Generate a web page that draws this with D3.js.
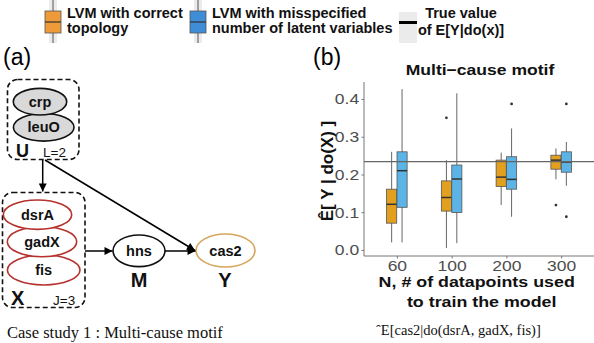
<!DOCTYPE html>
<html><head><meta charset="utf-8">
<script src="https://cdn.jsdelivr.net/npm/d3@7"></script>
<style>
html,body{margin:0;padding:0;background:#fff;}
svg{display:block;}
</style></head>
<body>
<svg id="c" width="594" height="343"></svg>
<script>
// ---- data ----
const groups = ["60", "100", "200", "300"];
const seriesNames = ["LVM with correct topology", "LVM with misspecified number of latent variables"];
// [lower whisker, q1, median, q3, upper whisker]
const correctStats = [
  [0.020, 0.071, 0.121, 0.161, 0.260],
  [0.005, 0.103, 0.139, 0.183, 0.238],
  [0.119, 0.168, 0.193, 0.238, 0.258],
  [0.187, 0.214, 0.238, 0.251, 0.269]
];
const misspecStats = [
  [0.020, 0.113, 0.210, 0.260, 0.426],
  [0.018, 0.099, 0.188, 0.225, 0.415],
  [0.088, 0.161, 0.187, 0.247, 0.322],
  [0.170, 0.206, 0.233, 0.260, 0.286]
];
const correctOutliers = [[], [0.350], [], [0.119]];
const misspecOutliers = [[], [], [0.387], [0.387, 0.088]];
const trueValue = 0.234;
const yTicks = [0, 0.1, 0.2, 0.3, 0.4];
const yDomain = [-0.016, 0.445];

const svg = d3.select("#c");
const font = '"Liberation Sans",Arial,Helvetica,sans-serif';
const serif = '"Liberation Serif","Times New Roman",serif';

// ---- legend ----
const legOrange = "#EE9A38", legBlue = "#3E8DD6";
function boxKey(cx, fill) {
  const g = svg.append("g");
  g.append("rect").attr("x", cx - 4).attr("y", 0).attr("width", 8).attr("height", 43).attr("fill", "#EBEBEB");
  g.append("line").attr("x1", cx).attr("x2", cx).attr("y1", 0).attr("y2", 43).attr("stroke", "#555").attr("stroke-width", 1);
  g.append("rect").attr("x", cx - 8).attr("y", 11).attr("width", 16).attr("height", 22).attr("fill", fill).attr("stroke", "#555").attr("stroke-width", 0.8);
  g.append("line").attr("x1", cx - 8).attr("x2", cx + 8).attr("y1", 22).attr("y2", 22).attr("stroke", "#333").attr("stroke-width", 1.2);
}
boxKey(53, legOrange);
boxKey(198, legBlue);
function legText(x, lines, ys, anchor) {
  lines.forEach((t, i) => svg.append("text").attr("x", x).attr("y", ys[i]).attr("font-family", font)
    .attr("font-weight", "bold").attr("font-size", 14.5).attr("text-anchor", anchor || "start").attr("fill", "#111").text(t));
}
legText(67, ["LVM with correct", "topology"], [17.5, 32.5]);
legText(212, ["LVM with misspecified", "number of latent variables"], [17.5, 32.5]);
svg.append("rect").attr("x", 399).attr("y", 12).attr("width", 18).attr("height", 31).attr("fill", "#EBEBEB");
svg.append("line").attr("x1", 399).attr("x2", 417).attr("y1", 22.5).attr("y2", 22.5).attr("stroke", "#000").attr("stroke-width", 3);
legText(461, ["True value", "of E[Y|do(x)]"], [18.3, 35], "middle");

// ---- panel labels ----
svg.append("text").attr("x", 3).attr("y", 65).attr("font-family", font).attr("font-size", 23).text("(a)");
svg.append("text").attr("x", 313).attr("y", 65).attr("font-family", font).attr("font-size", 23).text("(b)");

// ---- diagram (a) ----
const dg = svg.append("g");
dg.append("defs").append("marker").attr("id", "ah").attr("viewBox", "0 0 10 10").attr("refX", 10).attr("refY", 5)
  .attr("markerWidth", 9).attr("markerHeight", 8).attr("markerUnits", "userSpaceOnUse").attr("orient", "auto")
  .append("path").attr("d", "M0,0L10,5L0,10Z").attr("fill", "#000");
function dashBox(x, y, w, h) {
  dg.append("rect").attr("x", x).attr("y", y).attr("width", w).attr("height", h).attr("rx", 10).attr("ry", 10)
    .attr("fill", "none").attr("stroke", "#111").attr("stroke-width", 1.6).attr("stroke-dasharray", "5,3");
}
function node(cx, cy, rx, ry, stroke, fill, label) {
  dg.append("ellipse").attr("cx", cx).attr("cy", cy).attr("rx", rx).attr("ry", ry)
    .attr("fill", fill).attr("stroke", stroke).attr("stroke-width", 1.6);
  dg.append("text").attr("x", cx).attr("y", cy + 5).attr("text-anchor", "middle").attr("font-family", font)
    .attr("font-weight", "bold").attr("font-size", 14.5).attr("fill", "#111").text(label);
}
function arrow(x1, y1, x2, y2) {
  dg.append("line").attr("x1", x1).attr("y1", y1).attr("x2", x2).attr("y2", y2)
    .attr("stroke", "#000").attr("stroke-width", 1.5).attr("marker-end", "url(#ah)");
}
function dtext(x, y, t, size, bold, anchor) {
  dg.append("text").attr("x", x).attr("y", y).attr("font-family", font).attr("font-size", size)
    .attr("font-weight", bold ? "bold" : "normal").attr("text-anchor", anchor || "start").attr("fill", "#111").text(t);
}
dashBox(7.5, 79.5, 71.5, 80);
node(43.7, 127.3, 30.3, 13.8, "#111", "#D9D9D9", "leuO");
node(40, 101.7, 26.7, 13.3, "#111", "#D9D9D9", "crp");
dtext(16, 157, "U", 18, true);
dtext(43, 157, "L=2", 13.5, false);

dashBox(2.5, 192.5, 82.5, 115);
const red = "#B5322E";
node(43.7, 270, 36.3, 15, red, "#fff", "fis");
node(42, 241.7, 34.7, 15, red, "#fff", "gadX");
node(37.5, 214.7, 34.2, 14.7, red, "#fff", "dsrA");
dtext(11, 305, "X", 20, true);
dtext(53, 305, "J=3", 13.5, false);

node(139, 250.8, 26, 15.8, "#111", "#fff", "hns");
dtext(139, 287, "M", 20, true, "middle");
node(225.5, 250.5, 29.5, 16.5, "#D6A65C", "#fff", "cas2");
dtext(225, 287, "Y", 20, true, "middle");

arrow(42.7, 160, 42.7, 191.5);
arrow(45, 160, 195, 250.5);
arrow(85, 251, 112.5, 251);
arrow(165, 251, 195.5, 251);

svg.append("text").attr("x", 7).attr("y", 338).attr("font-family", serif).attr("font-size", 16.5).attr("fill", "#111")
  .text("Case study 1 : Multi-cause motif");

// ---- boxplot (b) ----
const pLeft = 364, pRight = 594, pTop = 82, pBottom = 256;
const x = d3.scalePoint().domain(groups).range([pLeft, pRight]).padding(0.6);
const y = d3.scaleLinear().domain(yDomain).range([pBottom, pTop]);
const step = x.step();
const boxW = step * 0.185, off = step * 0.095;
const sx = 1.13;

const yAxis = d3.axisLeft(y).tickValues(yTicks).tickFormat(d3.format(".1f")).tickSize(2.5).tickPadding(1.8);
const gy = svg.append("g").attr("transform", `translate(${pLeft},0)`).call(yAxis);
const xAxis = d3.axisBottom(x).tickSize(2.5).tickPadding(1.5);
const gx = svg.append("g").attr("transform", `translate(0,${pBottom})`).call(xAxis);
[gx, gy].forEach(g => {
  g.select(".domain").attr("stroke", "#777").attr("stroke-width", 1);
  g.selectAll(".tick line").attr("stroke", "#777");
  g.selectAll(".tick text").attr("font-family", font).attr("font-size", 15.5).attr("fill", "#4D4D4D")
    .attr("transform", `scale(${sx},1)`);
});
gy.select(".domain").attr("d", `M0,${pBottom}V${pTop}`);
gx.select(".domain").attr("d", `M${pLeft},0H${pRight}`);

const series = [
  { stats: correctStats, outliers: correctOutliers, fill: "#E3A01E", dx: -off },
  { stats: misspecStats, outliers: misspecOutliers, fill: "#5BB3E6", dx: off }
];
const pg = svg.append("g");
series.forEach(s => {
  groups.forEach((gname, i) => {
    const st = s.stats[i];
    const cx = x(gname) + s.dx;
    pg.append("line").attr("x1", cx).attr("x2", cx).attr("y1", y(st[0])).attr("y2", y(st[4]))
      .attr("stroke", "#666").attr("stroke-width", 1);
    pg.append("rect").attr("x", cx - boxW / 2).attr("y", y(st[3])).attr("width", boxW).attr("height", y(st[1]) - y(st[3]))
      .attr("fill", s.fill).attr("stroke", "#555").attr("stroke-width", 0.8);
    pg.append("line").attr("x1", cx - boxW / 2).attr("x2", cx + boxW / 2).attr("y1", y(st[2])).attr("y2", y(st[2]))
      .attr("stroke", "#333").attr("stroke-width", 1.5);
    s.outliers[i].forEach(v => pg.append("circle").attr("cx", cx).attr("cy", y(v)).attr("r", 1.4).attr("fill", "#333"));
  });
});
svg.append("line").attr("x1", pLeft).attr("x2", pRight).attr("y1", y(trueValue)).attr("y2", y(trueValue))
  .attr("stroke", "#666").attr("stroke-width", 1.1);

function stext(xp, yp, t, size, scaleX, anchor) {
  return svg.append("text").attr("transform", `translate(${xp},${yp}) scale(${scaleX},1)`).attr("text-anchor", anchor)
    .attr("font-family", font).attr("font-weight", "bold").attr("font-size", size).attr("fill", "#111").text(t);
}
stext(480, 75, "Multi\u2212cause motif", 15, 1.17, "middle");
stext(476.7, 287, "N, # of datapoints used", 15, 1.19, "middle");
stext(481.7, 307, "to train the model", 15, 1.19, "middle");
svg.append("text").attr("transform", `translate(333,171) rotate(-90)`).attr("text-anchor", "middle").attr("font-family", font)
  .attr("font-weight", "bold").attr("font-size", 17).attr("fill", "#111").text("\u00CA[ Y | do(X) ]");
svg.append("text").attr("x", 376).attr("y", 335).attr("font-family", serif).attr("font-size", 14.5).attr("fill", "#111")
  .text("\u02C6E[cas2|do(dsrA, gadX, fis)]");
</script>
</body></html>
